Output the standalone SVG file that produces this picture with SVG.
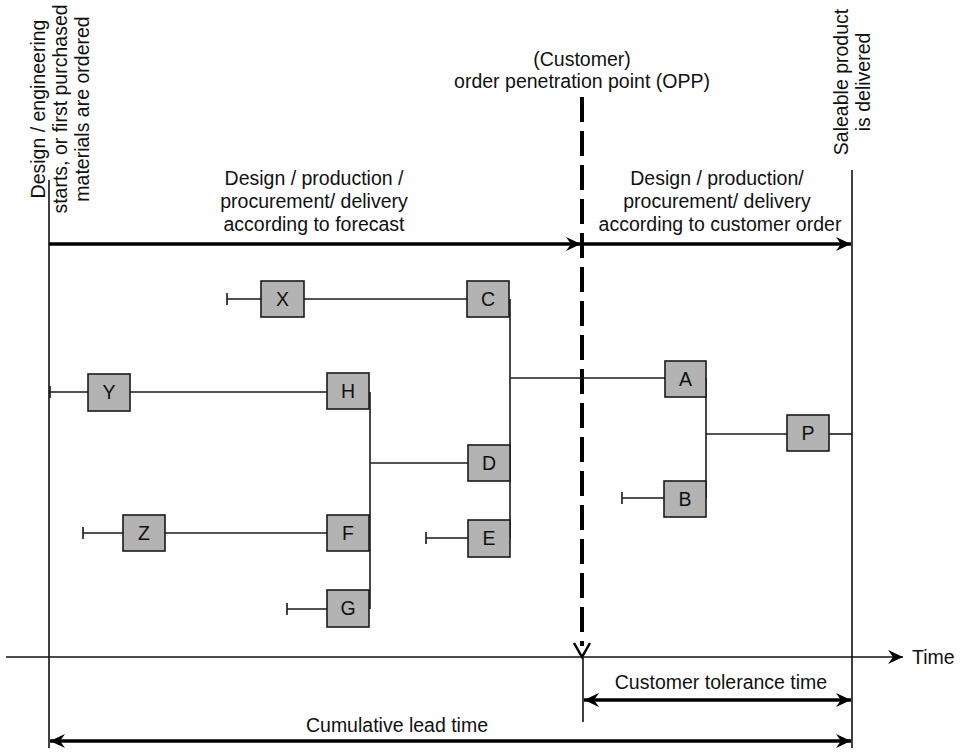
<svg xmlns="http://www.w3.org/2000/svg" width="965" height="753" viewBox="0 0 965 753">
  <style>
    text { font-family: "Liberation Sans", Arial, sans-serif; font-size: 19.5px; fill: #111; }
    .mid { text-anchor: middle; }
    .box { fill: #b3b3b3; stroke: #1a1a1a; stroke-width: 1.6; }
    .thin { stroke: #1a1a1a; stroke-width: 1.6; fill: none; }
    .thick { stroke: #000; stroke-width: 3.5; fill: none; }
    .frame { stroke: #111; stroke-width: 1.6; fill: none; }
    .opp { stroke: #000; stroke-width: 4; stroke-dasharray: 25 9; fill: none; }
  </style>
  <defs>
    <marker id="head" viewBox="-16 -8 17 16" refX="0" refY="0" markerWidth="17" markerHeight="16" markerUnits="userSpaceOnUse" orient="auto-start-reverse">
      <path d="M0,0 L-15,-7 L-10,0 L-15,7 Z" fill="#000"/>
    </marker>
  </defs>

  <!-- time frame: start / delivery verticals -->
  <g id="frame">
    <line class="frame" x1="49" y1="180" x2="49" y2="748"/>
    <line class="frame" x1="852" y1="170" x2="852" y2="748"/>
    <line class="frame" x1="583" y1="657" x2="583" y2="722"/>
  </g>

  <!-- rotated milestone labels -->
  <g id="label-start">
    <text class="mid" transform="translate(45,109) rotate(-90)">Design / engineering</text>
    <text class="mid" transform="translate(67,109) rotate(-90)">starts, or first purchased</text>
    <text class="mid" transform="translate(89,109) rotate(-90)">materials are ordered</text>
  </g>
  <g id="label-end">
    <text class="mid" transform="translate(848,82) rotate(-90)">Saleable product</text>
    <text class="mid" transform="translate(870,82) rotate(-90)">is delivered</text>
  </g>

  <!-- order penetration point -->
  <g id="opp">
    <text class="mid" x="582" y="66">(Customer)</text>
    <text class="mid" x="582" y="88">order penetration point (OPP)</text>
    <line class="opp" x1="582" y1="97" x2="582" y2="646"/>
    <path d="M574,643 L582,657 L590,643" fill="none" stroke="#000" stroke-width="2.5"/>
  </g>

  <!-- phase arrows -->
  <g id="phases">
    <text class="mid" x="314" y="185">Design / production /</text>
    <text class="mid" x="314" y="208">procurement/ delivery</text>
    <text class="mid" x="314" y="231">according to forecast</text>
    <line class="thick" x1="49" y1="244" x2="581" y2="244" marker-end="url(#head)"/>
    <text class="mid" x="717" y="185">Design / production/</text>
    <text class="mid" x="717" y="208">procurement/ delivery</text>
    <text class="mid" x="720" y="231">according to customer order</text>
    <line class="thick" x1="583" y1="244" x2="851" y2="244" marker-end="url(#head)"/>
  </g>

  <!-- time axis and spans -->
  <g id="axis">
    <line class="frame" x1="6" y1="657" x2="903" y2="657" stroke-width="2.5" marker-end="url(#head)"/>
    <text x="912" y="664">Time</text>
    <text class="mid" x="721" y="689">Customer tolerance time</text>
    <line class="thick" x1="584" y1="700" x2="851" y2="700" marker-start="url(#head)" marker-end="url(#head)"/>
    <text class="mid" x="397" y="732">Cumulative lead time</text>
    <line class="thick" x1="50" y1="741" x2="851" y2="741" marker-start="url(#head)" marker-end="url(#head)"/>
  </g>

  <!-- product structure connectors -->
  <g id="connectors">
    <path class="thin" d="M227,299 H261 M227,293 V305"/>
    <path class="thin" d="M304,299 H467"/>
    <path class="thin" d="M510,299 V538"/>
    <path class="thin" d="M510,378 H665"/>
    <path class="thin" d="M426,538 H468 M426,532 V544"/>
    <path class="thin" d="M370,463 H468"/>
    <path class="thin" d="M370,392 V609"/>
    <path class="thin" d="M49,392 H88 M50,386 V398"/>
    <path class="thin" d="M130,392 H327"/>
    <path class="thin" d="M83,533 H123 M83,527 V539"/>
    <path class="thin" d="M165,533 H327"/>
    <path class="thin" d="M287,609 H327 M287,603 V615"/>
    <path class="thin" d="M706,378 V498"/>
    <path class="thin" d="M706,434 H787"/>
    <path class="thin" d="M622,498 H664 M622,492 V504"/>
    <path class="thin" d="M829,434 H852"/>
  </g>

  <!-- items -->
  <g id="node-X"><rect class="box" x="261" y="281" width="43" height="36"/><text class="mid" x="282.5" y="306">X</text></g>
  <g id="node-C"><rect class="box" x="467" y="281" width="42" height="36"/><text class="mid" x="488" y="306">C</text></g>
  <g id="node-Y"><rect class="box" x="88" y="374" width="42" height="37"/><text class="mid" x="109" y="399">Y</text></g>
  <g id="node-H"><rect class="box" x="327" y="373" width="42" height="36"/><text class="mid" x="348" y="398">H</text></g>
  <g id="node-A"><rect class="box" x="665" y="361" width="41" height="36"/><text class="mid" x="685.5" y="386">A</text></g>
  <g id="node-D"><rect class="box" x="468" y="445" width="42" height="36"/><text class="mid" x="489" y="470">D</text></g>
  <g id="node-P"><rect class="box" x="787" y="415" width="42" height="36"/><text class="mid" x="808" y="440">P</text></g>
  <g id="node-B"><rect class="box" x="664" y="481" width="42" height="36"/><text class="mid" x="685" y="506">B</text></g>
  <g id="node-Z"><rect class="box" x="123" y="515" width="42" height="36"/><text class="mid" x="144" y="540">Z</text></g>
  <g id="node-F"><rect class="box" x="327" y="515" width="42" height="36"/><text class="mid" x="348" y="540">F</text></g>
  <g id="node-E"><rect class="box" x="468" y="520" width="42" height="37"/><text class="mid" x="489" y="545">E</text></g>
  <g id="node-G"><rect class="box" x="327" y="590" width="42" height="37"/><text class="mid" x="348" y="615">G</text></g>
</svg>
